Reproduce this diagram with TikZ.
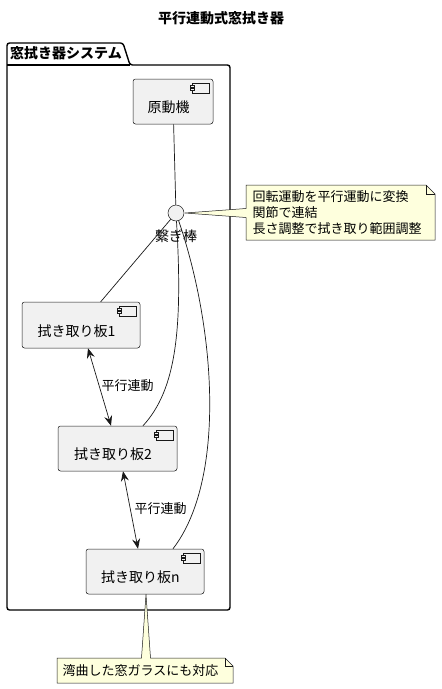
\documentclass[tikz,border=0pt]{standalone}
\usepackage{fontspec}
\setmainfont{Noto Sans CJK JP}
\usetikzlibrary{arrows.meta}
\definecolor{compfill}{HTML}{F1F1F1}
\definecolor{lineclr}{HTML}{181818}
\definecolor{notefill}{HTML}{FEFFDD}
\tikzset{
  comp/.style={draw=lineclr, fill=compfill, line width=0.5pt, rounded corners=2.5pt, inner sep=0pt},
  comptext/.style={inner sep=0pt, font=\fontsize{14}{16}\selectfont},
  compicon/.style={draw=lineclr, fill=compfill, line width=0.5pt},
  conn/.style={draw=lineclr, line width=0.7pt},
  biarrow/.style={conn, {Stealth[length=10pt,width=8pt,inset=3.5pt]}-{Stealth[length=10pt,width=8pt,inset=3.5pt]}},
  notebody/.style={draw=lineclr, fill=notefill, line width=0.5pt},
  notetext/.style={inner sep=0pt, font=\fontsize{13}{16}\selectfont, align=left},
  lbl/.style={inner sep=0pt, font=\fontsize{13}{15}\selectfont},
  pkg/.style={draw=black, line width=1.4pt, rounded corners=2.5pt}
}
\newcommand\mycomp[6]{%
  \node[comp, minimum width=#4, minimum height=#5] (#1) at (#2,#3) {};
  \node[comptext] (#1-t) at ([shift={(-4.5,6)}]#1.center) {#6};
  \draw[compicon] ([shift={(-21,4)}]#1.north east) rectangle ([shift={(-4,14)}]#1.north east);
  \draw[compicon] ([shift={(-23,6.5)}]#1.north east) rectangle ([shift={(-19,8.5)}]#1.north east);
  \draw[compicon] ([shift={(-23,9.5)}]#1.north east) rectangle ([shift={(-19,11.5)}]#1.north east);
}
\begin{document}
\begin{tikzpicture}[x=1pt, y=-1pt]
\useasboundingbox (0,0) rectangle (442,689);
% title
\node[inner sep=0pt, font=\fontsize{14}{16}\selectfont\bfseries] (title) at (221,18) {平行連動式窓拭き器};
% package
\draw[pkg] (7,610) -- (7,43) -- (123,43) -- (130,65) -- (230,65) -- (230,610) -- cycle;
\draw[black, line width=1.4pt] (7,65) -- (130,65);
\node[inner sep=0pt, anchor=west, font=\fontsize{14}{16}\selectfont\bfseries] (pkgname) at (10,53.5) {窓拭き器システム};
% components
\mycomp{gen}{173}{101.5}{80}{45}{原動機}
\mycomp{b1}{81}{325}{118}{46}{拭き取り板1}
\mycomp{b2}{117.5}{448.5}{119}{45}{拭き取り板2}
\mycomp{bn}{145}{571.5}{118}{45}{拭き取り板n}
% rod
\node[circle, draw=lineclr, fill=compfill, line width=0.5pt, minimum size=16pt, inner sep=0pt] (rod) at (176,213) {};
\node[comptext] (rodlbl) at (176,236.5) {繋ぎ棒};
% connectors
\draw[conn] (gen) -- (rod);
\draw[conn] (rod) -- (b1);
\draw[conn] (rod) .. controls (183,330) and (176,390) .. ([xshift=25.5]b2.north);
\draw[conn] (rod) .. controls (216,330) and (226,480) .. ([xshift=28]bn.north);
\draw[biarrow] ([xshift=7]b1.south) -- ([xshift=-6.5]b2.north);
\node[lbl] (l1) at (127.5,386) {平行連動};
\draw[biarrow] ([xshift=5.5]b2.south) -- ([xshift=-7]bn.north);
\node[lbl] (l2) at (160.5,509) {平行連動};
% note 1
\coordinate (n1tip) at (185,213);
\draw[notebody] (246,185) -- (426,185) -- (435,194) -- (435,240) -- (246,240) -- (246,217.5) -- (n1tip) -- (246,208.5) -- cycle;
\draw[notebody, fill=none] (426,185) -- (426,194) -- (435,194);
\node[notetext, anchor=north west] (n1) at (252.5,190) {回転運動を平行運動に変換\\関節で連結\\長さ調整で拭き取り範囲調整};
% note 2
\coordinate (n2tip) at ([xshift=1]bn.south);
\draw[notebody] (57,658) -- (141.5,658) -- (n2tip) -- (150.5,658) -- (225,658) -- (233,666) -- (233,683) -- (57,683) -- cycle;
\draw[notebody, fill=none] (225,658) -- (225,666) -- (233,666);
\node[lbl] (n2) at (140.5,670.5) {湾曲した窓ガラスにも対応};
\end{tikzpicture}
\end{document}
